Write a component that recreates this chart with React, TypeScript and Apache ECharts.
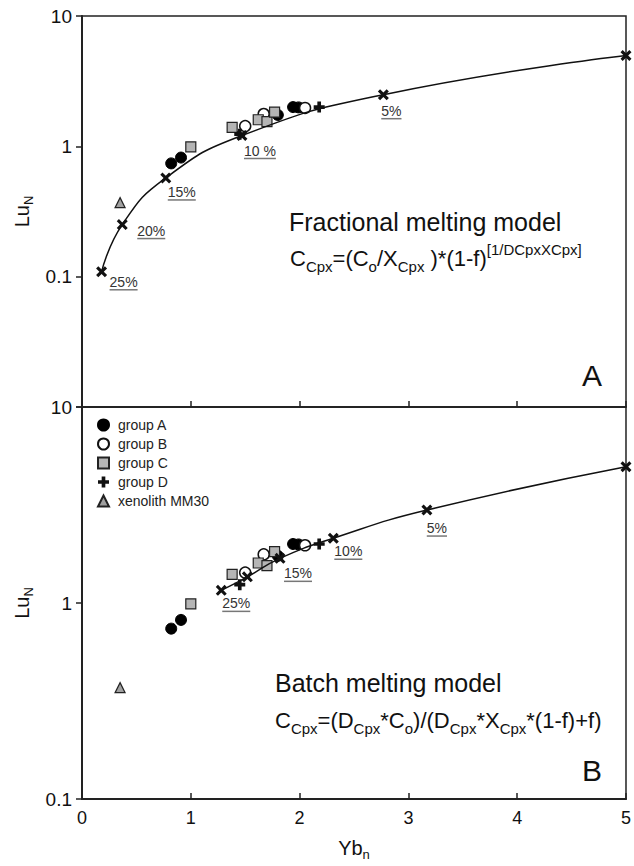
import React, { useEffect, useRef } from 'react';
import * as echarts from 'echarts';

// ---- sample data (Yb_n, Lu_N) ----
const groupA = [[0.82, 0.74], [0.91, 0.82], [1.80, 1.74], [1.94, 2.0], [1.99, 1.99]];
const groupB = [[1.50, 1.43], [1.67, 1.77], [2.05, 1.97]];
const groupC = [[1.0, 0.99], [1.38, 1.40], [1.62, 1.60], [1.70, 1.55], [1.77, 1.83]];
const groupD = [[1.45, 1.24], [2.18, 2.0]];
const xenolith = [[0.35, 0.37]];

// ---- fractional melting model (panel A) ----
const fracX = [0.18, 0.37, 0.77, 1.47, 2.77, 5.0];
const fracY = [0.109, 0.251, 0.572, 1.21, 2.49, 4.98];
const fracLabels = ['25%', '20%', '15%', '10 %', '5%', ''];

// ---- batch melting model (panel B) ----
const batchX = [1.28, 1.52, 1.82, 2.31, 3.17, 5.0];
const batchY = [1.16, 1.36, 1.69, 2.14, 2.98, 4.96];
const batchLabels = ['25%', '', '15%', '10%', '5%', ''];

const legendNames = ['group A', 'group B', 'group C', 'group D', 'xenolith MM30'];

// label placement (layout only)
const fracLabelOffsets = [[22, 10], [29, 6], [16, 14], [18, 15], [8, 16], [0, 0]];
const batchLabelOffsets = [[15, 13], [0, 0], [18, 15], [15, 13], [10, 18], [0, 0]];

const SANS = '"Liberation Sans", Arial, Helvetica, sans-serif';
const X_PATH = 'path://M-3,-1.8L-1.8,-3L0,-1.2L1.8,-3L3,-1.8L1.2,0L3,1.8L1.8,3L0,1.2L-1.8,3L-3,1.8L-1.2,0Z';
const PLUS_PATH = 'path://M-1,-3H1V-1H3V1H1V3H-1V1H-3V-1H-1Z';

const groupStyles: Record<string, any> = {
  'group A': { symbol: 'circle', symbolSize: 11, itemStyle: { color: '#000', borderColor: '#000', borderWidth: 1, opacity: 1 } },
  'group B': { symbol: 'circle', symbolSize: 11, itemStyle: { color: '#fff', borderColor: '#111', borderWidth: 1.5, opacity: 1 } },
  'group C': { symbol: 'rect', symbolSize: 10, itemStyle: { color: '#b5b5b5', borderColor: '#222', borderWidth: 1.2, opacity: 1 } },
  'group D': { symbol: PLUS_PATH, symbolSize: 11, itemStyle: { color: '#111', opacity: 1 } },
  'xenolith MM30': { symbol: 'triangle', symbolSize: 10, itemStyle: { color: '#a0a0a0', borderColor: '#222', borderWidth: 1.2, opacity: 1 } },
};
const groupData: Record<string, number[][]> = {
  'group A': groupA, 'group B': groupB, 'group C': groupC, 'group D': groupD, 'xenolith MM30': xenolith,
};

export default function App() {
  const ref = useRef<HTMLDivElement>(null);
  useEffect(() => {
    document.body.style.margin = '0';
    const chart = echarts.init(ref.current!, null, { renderer: 'svg' });

    const logFmt = (v: number) => (v < 0.05 ? '' : String(+Number(v).toPrecision(3)));

    const yAxisBase = (g: number, min: number) => ({
      type: 'log', logBase: 10, gridIndex: g, min, max: 10,
      axisLine: { show: true, lineStyle: { color: '#222', width: 2 } },
      axisTick: { show: true, inside: false, length: 6, lineStyle: { color: '#222', width: 1.5 } },
      axisLabel: { formatter: logFmt, fontSize: 19, color: '#111', fontFamily: SANS, margin: 10 },
      splitLine: { show: false }, minorTick: { show: false },
      name: '{a|Lu}{b|N}', nameLocation: 'middle', nameGap: 44, nameRotate: 90,
      nameTextStyle: {
        rich: {
          a: { fontSize: 20, fontFamily: SANS, color: '#111', lineHeight: 26, verticalAlign: 'middle' },
          b: { fontSize: 13, fontFamily: SANS, color: '#111', lineHeight: 14, verticalAlign: 'bottom' },
        },
      },
    });
    const xAxisBase = (g: number) => ({
      type: 'value', gridIndex: g, min: 0, max: 5, interval: 1,
      axisLine: { show: true, lineStyle: { color: '#222', width: g === 1 ? 2 : 1.5 } },
      axisTick: { show: true, inside: true, length: 6, lineStyle: { color: '#222', width: 1.5 } },
      axisLabel: { show: g === 1, fontSize: 18, color: '#111', fontFamily: SANS, margin: 10 },
      splitLine: { show: false },
      name: g === 1 ? '{a|Yb}{b|n}' : '', nameLocation: 'middle', nameGap: 36,
      nameTextStyle: {
        rich: {
          a: { fontSize: 20, fontFamily: SANS, color: '#111', lineHeight: 26, verticalAlign: 'middle' },
          b: { fontSize: 13, fontFamily: SANS, color: '#111', lineHeight: 14, verticalAlign: 'bottom' },
        },
      },
    });

    const series: any[] = [];
    [0, 1].forEach((g) => {
      legendNames.forEach((n) => {
        series.push({
          type: 'scatter', name: n, xAxisIndex: g, yAxisIndex: g, data: groupData[n], z: 3,
          ...groupStyles[n],
        });
      });
    });
    const modelSeries = (g: number, xs: number[], ys: number[], labels: string[], offs: number[][]) => ({
      type: 'line', name: g === 0 ? 'fractional' : 'batch', xAxisIndex: g, yAxisIndex: g,
      smooth: 0.5, symbol: X_PATH, symbolSize: 11, showSymbol: true, z: 4,
      lineStyle: { color: '#111', width: 1.5 }, itemStyle: { color: '#111', opacity: 1 },
      data: xs.map((x, i) => ({
        value: [x, ys[i]],
        label: labels[i]
          ? { show: true, formatter: labels[i], position: 'inside', offset: offs[i], fontSize: 14, color: '#333', fontFamily: SANS }
          : { show: false },
      })),
    });
    series.push(modelSeries(0, fracX, fracY, fracLabels, fracLabelOffsets));
    series.push(modelSeries(1, batchX, batchY, batchLabels, batchLabelOffsets));

    const richFormula = {
      m: { fontSize: 22, fontFamily: SANS, fill: '#111', lineHeight: 32, verticalAlign: 'middle' },
      s: { fontSize: 15, fontFamily: SANS, fill: '#111', lineHeight: 20, verticalAlign: 'bottom' },
      p: { fontSize: 15, fontFamily: SANS, fill: '#111', lineHeight: 14, verticalAlign: 'top' },
    };
    const texts: any[] = [
      { type: 'text', id: 't1', x: 289, y: 222, style: { text: 'Fractional melting model', font: `25px ${SANS}`, fill: '#111', textVerticalAlign: 'middle' } },
      { type: 'text', id: 't2', x: 290, y: 258, style: { text: '{m|C}{s|Cpx}{m|=(C}{s|o}{m|/X}{s|Cpx}{m| )*(1-f)}{p|[1/DCpxXCpx]}', font: `22px ${SANS}`, fill: '#111', textVerticalAlign: 'middle', rich: richFormula } },
      { type: 'text', id: 't3', x: 275, y: 683, style: { text: 'Batch melting model', font: `25px ${SANS}`, fill: '#111', textVerticalAlign: 'middle' } },
      { type: 'text', id: 't4', x: 275, y: 720, style: { text: '{m|C}{s|Cpx}{m|=(D}{s|Cpx}{m|*C}{s|o}{m|)/(D}{s|Cpx}{m|*X}{s|Cpx}{m|*(1-f)+f)}', font: `22px ${SANS}`, fill: '#111', textVerticalAlign: 'middle', rich: richFormula } },
      { type: 'text', id: 't5', x: 592, y: 375, style: { text: 'A', font: `30px ${SANS}`, fill: '#111', textAlign: 'center', textVerticalAlign: 'middle' } },
      { type: 'text', id: 't6', x: 592, y: 770, style: { text: 'B', font: `30px ${SANS}`, fill: '#111', textAlign: 'center', textVerticalAlign: 'middle' } },
    ];

    chart.setOption({
      animation: false,
      backgroundColor: '#fff',
      grid: [
        { left: 82, right: 8, top: 16, height: 391, show: true, borderColor: '#222', borderWidth: 1.5, backgroundColor: 'transparent' },
        { left: 82, right: 8, top: 407, height: 392, show: true, borderColor: '#222', borderWidth: 1.5, backgroundColor: 'transparent' },
      ],
      xAxis: [xAxisBase(0), xAxisBase(1)],
      yAxis: [yAxisBase(0, 0.01), yAxisBase(1, 0.1)],
      legend: {
        data: legendNames, orient: 'vertical', left: 92, top: 413, itemWidth: 11, itemHeight: 11, itemGap: 5,
        selectedMode: false,
        textStyle: { fontSize: 14, color: '#222', fontFamily: SANS, padding: [0, 0, 0, 4] },
      },
      series,
      graphic: texts,
    });

    // underlines below model labels
    const ctx = document.createElement('canvas').getContext('2d')!;
    ctx.font = `14px ${SANS}`;
    const underlines: any[] = [];
    const addLines = (g: number, xs: number[], ys: number[], labels: string[], offs: number[][]) => {
      labels.forEach((t, i) => {
        if (!t) return;
        const p = chart.convertToPixel({ gridIndex: g }, [xs[i], ys[i]]) as number[];
        const w = ctx.measureText(t).width;
        const cx = p[0] + offs[i][0];
        const cy = p[1] + offs[i][1] + 8;
        underlines.push({
          type: 'line', id: `u${g}_${i}`, silent: true,
          shape: { x1: cx - w / 2, y1: cy, x2: cx + w / 2, y2: cy },
          style: { stroke: '#777', lineWidth: 1.5 },
        });
      });
    };
    addLines(0, fracX, fracY, fracLabels, fracLabelOffsets);
    addLines(1, batchX, batchY, batchLabels, batchLabelOffsets);
    chart.setOption({ graphic: [...texts, ...underlines] });

    return () => chart.dispose();
  }, []);
  return <div ref={ref} style={{ width: 634, height: 866 }} />;
}
